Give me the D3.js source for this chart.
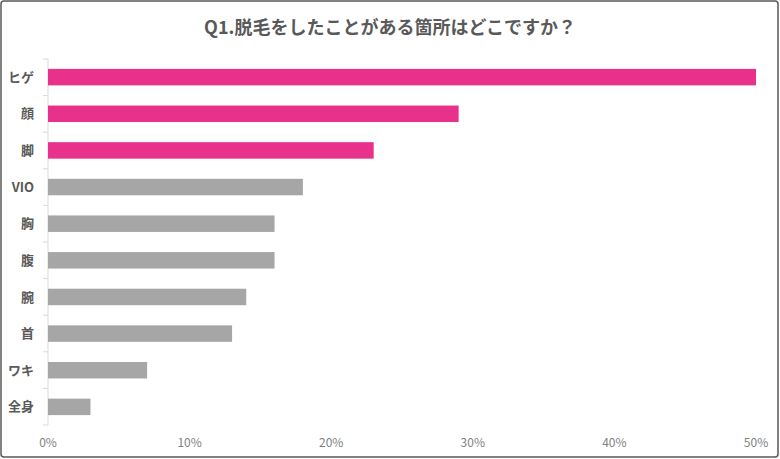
<!DOCTYPE html><html><head><meta charset="utf-8"><script src="https://cdn.jsdelivr.net/npm/d3@7"></script>
<style>body{margin:0;background:#fff}svg{display:block}</style></head><body><svg id="c" width="780" height="459"></svg>
<script>
const categories=["ヒゲ","顔","脚","VIO","胸","腹","腕","首","ワキ","全身"];
const values=[50,29,23,18,16,16,14,13,7,3];
const highlighted=["ヒゲ","顔","脚"];
const tickValues=[0,10,20,30,40,50];
const title="Q1.脱毛をしたことがある箇所はどこですか？";
const svg=d3.select("#c");
const font="'Noto Sans CJK JP','Noto Sans',sans-serif";
svg.append("rect").attr("x",1).attr("y",1).attr("width",777).attr("height",456).attr("rx",3).attr("fill","#fff").attr("stroke","#595959").attr("stroke-width",1.5);
svg.append("text").attr("x",390).attr("y",34).attr("text-anchor","middle").attr("font-family",font).attr("font-weight","bold").attr("font-size",18).attr("fill","#595959").text(title);
const x=d3.scaleLinear().domain([0,50]).range([48,756]);
const y=d3.scaleBand().domain(categories).range([59,425]).paddingInner(0.55).paddingOuter(0.27);
svg.append("line").attr("x1",48).attr("x2",48).attr("y1",59).attr("y2",425).attr("stroke","#d9d9d9");
categories.forEach((c,i)=>{svg.append("line").attr("x1",43).attr("x2",48).attr("y1",59+i*36.6).attr("y2",59+i*36.6).attr("stroke","#d9d9d9");});
svg.append("line").attr("x1",43).attr("x2",48).attr("y1",425).attr("y2",425).attr("stroke","#d9d9d9");
svg.selectAll("rect.bar").data(categories).join("rect").attr("class","bar")
 .attr("x",x(0)).attr("y",d=>y(d)).attr("height",y.bandwidth())
 .attr("width",(d,i)=>x(values[i])-x(0))
 .attr("fill",d=>highlighted.includes(d)?"#e8318a":"#a6a6a6");
svg.selectAll("text.cat").data(categories).join("text").attr("class","cat")
 .attr("x",34).attr("y",d=>y(d)+y.bandwidth()/2).attr("dy","0.35em").attr("text-anchor","end")
 .attr("font-family",font).attr("font-weight","bold").attr("font-size",13).attr("fill","#595959").text(d=>d);
svg.selectAll("text.tick").data(tickValues).join("text").attr("class","tick")
 .attr("x",d=>x(d)).attr("y",447).attr("text-anchor","middle")
 .attr("font-family",font).attr("font-size",12).attr("fill","#7f7f7f").text(d=>d+"%");
</script></body></html>
